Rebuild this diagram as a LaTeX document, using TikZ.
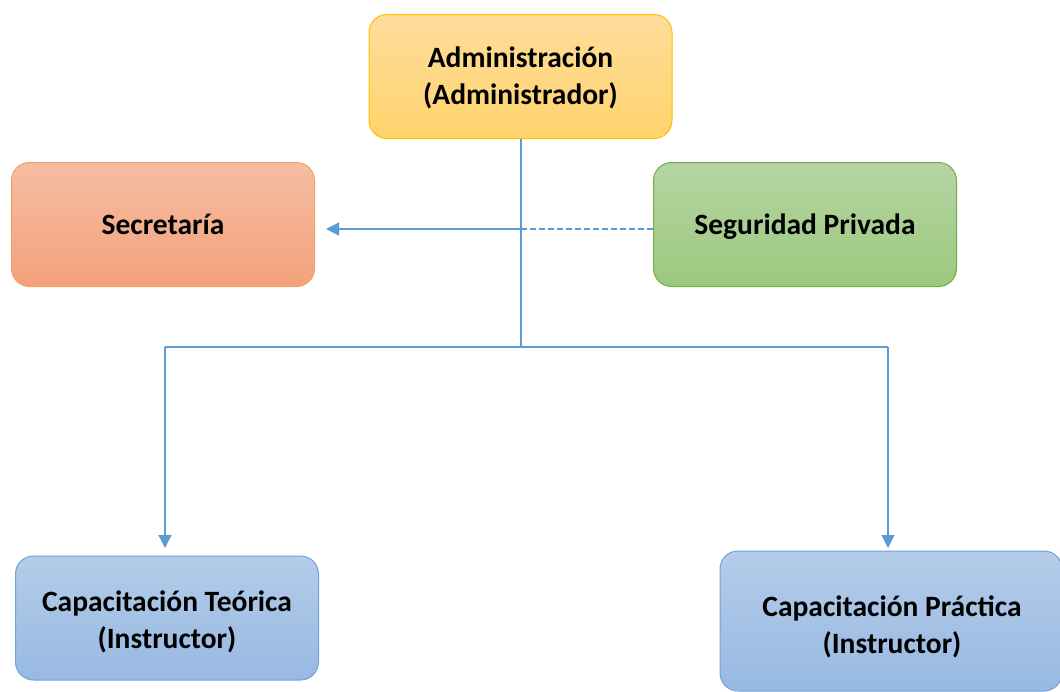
\documentclass[tikz,border=0pt]{standalone}
\usepackage{fontspec}
\setmainfont{Carlito}
\usetikzlibrary{arrows.meta}
\definecolor{conn}{HTML}{5B9BD5}
\definecolor{admTop}{HTML}{FEDD9C}
\definecolor{admBot}{HTML}{FFD36B}
\definecolor{admLine}{HTML}{FFC000}
\definecolor{secTop}{HTML}{F5BDA2}
\definecolor{secBot}{HTML}{F4A17C}
\definecolor{secLine}{HTML}{F4A164}
\definecolor{segTop}{HTML}{B4D5A3}
\definecolor{segBot}{HTML}{9DC87E}
\definecolor{segLine}{HTML}{70AD47}
\definecolor{capTop}{HTML}{B4CCE9}
\definecolor{capBot}{HTML}{97B9E2}
\definecolor{capLine}{HTML}{6FA3DA}
\tikzset{
  box/.style={rounded corners=18pt, minimum width=303pt, minimum height=124pt,
    line width=1pt, inner sep=0pt},
  boxlabel/.style={align=center, font=\fontsize{29.5}{37}\selectfont\bfseries, inner sep=0pt},
  admbox/.style={box, draw=admLine, top color=admTop, bottom color=admBot},
  secbox/.style={box, draw=secLine, top color=secTop, bottom color=secBot},
  segbox/.style={box, draw=segLine, top color=segTop, bottom color=segBot},
  capbox/.style={box, draw=capLine, top color=capTop, bottom color=capBot},
  link/.style={draw=conn, line width=1.3pt},
  tipped/.style={-{Triangle[length=13pt,width=13pt]}}
}
\begin{document}
\begin{tikzpicture}[x=1pt,y=-1pt]
\useasboundingbox (0,0) rectangle (1060,691);
\node[admbox] (adm) at (520.5,76.5) {};
\node[secbox] (sec) at (163,224.5) {};
\node[segbox] (seg) at (805,224.5) {};
\node[capbox] (teo) at (167,618) {};
\node[capbox, minimum width=342pt, minimum height=140pt] (pra) at (891,621) {};
\node[boxlabel] (admT) at ([yshift=-1pt]adm.center) {Administración\\(Administrador)};
\node[boxlabel] (secT) at (sec.center) {Secretaría};
\node[boxlabel] (segT) at ([yshift=-2pt]seg.center) {Seguridad Privada};
\node[boxlabel] (teoT) at ([yshift=-4pt]teo.center) {Capacitación Teórica\\(Instructor)};
\node[boxlabel] (praT) at ([yshift=-6pt, xshift=1pt]pra.center) {Capacitación Práctica\\(Instructor)};
\coordinate (hub) at (521,347);
\coordinate (mid) at (521,229);
\coordinate (secEnd) at (326,229);
\coordinate (hl) at (165,347);
\coordinate (hr) at (888,347);
\coordinate (dl) at (165,548);
\coordinate (dr) at (888,548);
\path[link] (adm.south -| hub) -- (hub);
\path[link] (hl) -- (hr);
\path[link, tipped] (hl) -- (dl);
\path[link, tipped] (hr) -- (dr);
\path[link, tipped] (mid) -- (secEnd);
\path[link, dashed, dash pattern=on 6pt off 3pt] (mid) -- (seg.west |- mid);
\end{tikzpicture}
\end{document}
